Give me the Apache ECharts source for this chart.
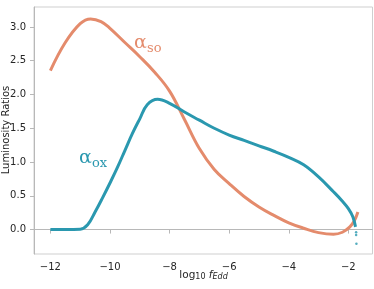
<!DOCTYPE html>
<html>
<head>
<meta charset="utf-8">
<script src="https://cdn.jsdelivr.net/npm/echarts@6/dist/echarts.min.js"></script>
<style>html,body{margin:0;padding:0;background:#fff;}#c{width:374px;height:289px;}</style>
</head>
<body>
<div id="c"></div>
<script>
// alpha_so (orange)
var soX = [-12, -11.5, -11.0, -10.65, -10.3, -10.0, -9.5, -9.0, -8.5, -8.0, -7.5, -7.0, -6.5, -6.0, -5.5, -5.0, -4.5, -4.0, -3.5, -3.0, -2.5, -2.2, -1.95, -1.8, -1.68];
var soY = [2.355, 2.77, 3.05, 3.12, 3.08, 2.98, 2.77, 2.56, 2.33, 2.05, 1.63, 1.20, 0.89, 0.68, 0.49, 0.335, 0.21, 0.10, 0.02, -0.045, -0.07, -0.04, 0.04, 0.13, 0.26];
// alpha_ox (teal)
var oxX = [-12, -11.5, -11.0, -10.75, -10.5, -10.25, -10.0, -9.75, -9.5, -9.25, -9.0, -8.75, -8.4, -8.0, -7.5, -7.0, -6.5, -6.0, -5.5, -5.0, -4.5, -4.0, -3.5, -3.0, -2.5, -2.2, -2.0, -1.85, -1.76];
var oxY = [0.0, 0.0, 0.005, 0.07, 0.26, 0.47, 0.69, 0.92, 1.17, 1.42, 1.64, 1.85, 1.93, 1.87, 1.74, 1.62, 1.50, 1.40, 1.32, 1.24, 1.16, 1.07, 0.96, 0.78, 0.56, 0.42, 0.31, 0.19, 0.04];
var oxTailX = [-1.74, -1.74, -1.73];
var oxTailY = [-0.04, -0.08, -0.21];
var xTicks = [-12, -10, -8, -6, -4, -2];
var yTicks = [0.0, 0.5, 1.0, 1.5, 2.0, 2.5, 3.0];

var ORANGE = '#E48B6C';
var TEAL = '#2A98AF';
function zip(a, b) { return a.map(function (v, i) { return [v, b[i]]; }); }

var chart = echarts.init(document.getElementById('c'), null, {renderer: 'canvas'});
var axisCommon = {
  axisLine: {show: true, lineStyle: {color: '#b8b8b8', width: 1}},
  axisTick: {show: true, inside: false, length: 4, lineStyle: {color: '#b8b8b8'}},
  splitLine: {show: false},
  axisLabel: {color: '#262626', fontSize: 10, fontFamily: 'DejaVu Sans', margin: 8}
};
chart.setOption({
  animation: false,
  grid: {left: 34, right: 1.5, top: 7, bottom: 35, show: true, borderColor: '#cfcfcf', borderWidth: 1},
  xAxis: echarts.util.merge({
    type: 'value', min: -12.55, max: -1.19,
    axisTick: {customValues: xTicks},
    axisLabel: {customValues: xTicks, formatter: function (v) { return v < 0 ? '\u2212' + Math.abs(v) : '' + v; }}
  }, axisCommon),
  yAxis: echarts.util.merge({
    type: 'value', min: -0.362, max: 3.296,
    axisTick: {customValues: yTicks},
    axisLabel: {customValues: yTicks, formatter: function (v) { return v.toFixed(1); }}
  }, axisCommon),
  series: [
    {type: 'line', data: zip(soX, soY), showSymbol: false, smooth: 0.4,
     lineStyle: {color: ORANGE, width: 3}, z: 2},
    {type: 'line', data: zip(oxX, oxY), showSymbol: false, smooth: 0.4,
     lineStyle: {color: TEAL, width: 3}, z: 3},
    {type: 'scatter', data: zip(oxTailX, oxTailY), symbolSize: 2.5, itemStyle: {color: TEAL}, z: 3}
  ],
  graphic: [
    {type: 'text', left: 134, top: 34, style: {text: '\u03b1', fontSize: 19, fontFamily: 'DejaVu Serif', fill: ORANGE}},
    {type: 'text', left: 147, top: 42, style: {text: 'so', fontSize: 13, fontFamily: 'DejaVu Serif', fill: ORANGE}},
    {type: 'text', left: 79, top: 149, style: {text: '\u03b1', fontSize: 19, fontFamily: 'DejaVu Serif', fill: TEAL}},
    {type: 'text', left: 92, top: 157, style: {text: 'ox', fontSize: 13, fontFamily: 'DejaVu Serif', fill: TEAL}},
    {type: 'text', x: 6, y: 130, rotation: Math.PI / 2, style: {text: 'Luminosity Ratios', fontSize: 10, fontFamily: 'DejaVu Sans', fill: '#262626', align: 'center', verticalAlign: 'middle'}},
    {type: 'text', x: 203.5, y: 275, style: {
      text: 'log{s|10} {i|f}{is|Edd}', fontSize: 10.5, fontFamily: 'DejaVu Sans', fill: '#262626', align: 'center', verticalAlign: 'middle',
      rich: {
        s: {fontSize: 8, fontFamily: 'DejaVu Sans', fill: '#262626', padding: [4, 0, 0, 0]},
        i: {fontSize: 10.5, fontStyle: 'italic', fontFamily: 'DejaVu Sans', fill: '#262626'},
        is: {fontSize: 8, fontStyle: 'italic', fontFamily: 'DejaVu Sans', fill: '#262626', padding: [4, 0, 0, 0]}
      }
    }}
  ]
});
</script>
</body>
</html>
